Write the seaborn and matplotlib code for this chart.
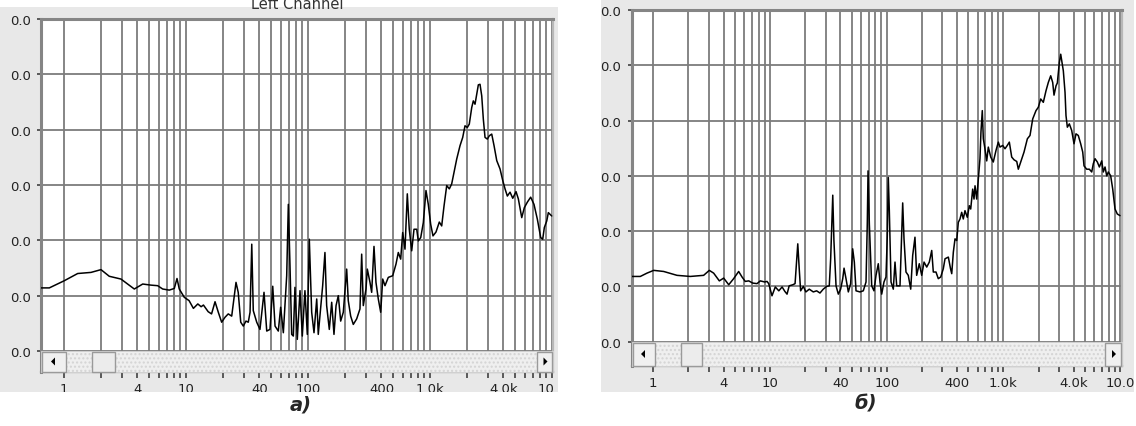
import matplotlib
matplotlib.use("Agg")
import matplotlib.pyplot as plt
import seaborn as sns
import pandas as pd
from matplotlib.patches import Rectangle, Polygon
from matplotlib.ticker import FixedLocator, FixedFormatter, NullFormatter

# ---------------- data ----------------
left_freq = [0.648, 0.758, 1.006, 1.295, 1.665, 2.01, 2.35, 2.93, 3.77, 4.42,
             5.17, 5.86, 6.44, 7.29, 8.02, 8.44, 8.81, 9.68, 10.6, 11.5,
             12.5, 13.3, 13.9, 15.2, 16.2, 17.3, 18.4, 19.6, 20.9, 22.2,
             23.7, 25.7, 26.8, 28.1, 29.5, 31.0, 32.4, 33.5, 34.6, 35.6,
             38.0, 40.4, 43.6, 45.9, 48.8, 51.4, 53.7, 57.1, 59.7, 62.8,
             66.9, 69.0, 71.2, 73.5, 75.8, 78.2, 81.7, 86.0, 89.8, 94.4,
             98.7, 102.5, 107.2, 112, 117.9, 121.4, 125.3, 131.9, 137.7, 142.2,
             149.5, 156.4, 163.3, 169.8, 177.2, 185.3, 194.7, 207.5, 213.8, 223.8,
             235.1, 250.6, 266.7, 275.4, 284, 298.8, 306.3, 322.2, 332.6, 347.5,
             360.7, 376.9, 394.4, 409.6, 427.6, 455.2, 494.5, 526.3, 549.8, 575.2,
             597.3, 623.7, 651.6, 676.1, 707.9, 739.4, 778.4, 802, 839.5, 881.6,
             927, 968.3, 1013, 1058, 1120, 1192, 1247, 1303, 1371, 1440,
             1506, 1574, 1656, 1762, 1854, 1936, 2023, 2099, 2198, 2265,
             2339, 2416, 2490, 2570, 2655, 2736, 2825, 2951, 3064, 3206,
             3350, 3525, 3750, 3948, 4121, 4305, 4530, 4767, 5072, 5297,
             5649, 5931, 6281, 6687, 7118, 7586, 8079, 8392, 8650, 9055,
             9333, 9950]
left_db = [-48.6, -48.6, -47.3, -46.0, -45.8, -45.3, -46.5, -47.0, -48.8, -47.9,
           -48.1, -48.2, -48.8, -49.0, -48.7, -46.9, -48.8, -50.3, -50.9, -52.3,
           -51.5, -52.0, -51.7, -52.9, -53.3, -51.1, -53.0, -54.8, -53.9, -53.3,
           -53.7, -47.6, -49.4, -54.8, -55.5, -54.6, -54.8, -53.0, -40.7, -52.7,
           -54.8, -56.1, -49.4, -56.4, -56.1, -48.3, -55.5, -56.4, -52.1, -56.7,
           -46.4, -33.5, -44.6, -57.0, -57.3, -48.5, -57.9, -49.1, -57.3, -49.1,
           -57.0, -39.8, -53.0, -56.7, -50.6, -57.0, -53.7, -48.2, -42.2, -51.8,
           -56.1, -51.2, -57.0, -51.8, -50.0, -54.6, -53.0, -45.2, -50.9, -53.7,
           -55.2, -54.2, -52.4, -42.5, -51.8, -48.8, -45.2, -47.6, -49.4, -41.1,
           -47.6, -50.6, -53.0, -47.0, -48.2, -46.7, -46.4, -44.3, -42.2, -43.4,
           -38.6, -41.6, -31.6, -38.0, -41.9, -38.0, -38.0, -40.1, -39.5, -36.8,
           -31.0, -33.5, -37.1, -39.2, -38.5, -36.7, -37.4, -33.8, -30.1, -30.7,
           -29.8, -27.7, -25.3, -22.9, -21.4, -19.3, -19.6, -19.0, -16.0, -14.8,
           -15.4, -13.6, -11.9, -11.8, -13.9, -18.1, -21.4, -21.7, -21.1, -20.8,
           -22.9, -25.6, -27.1, -29.2, -30.7, -32.0, -31.3, -32.4, -31.2, -32.5,
           -35.9, -34.1, -33.1, -32.2, -33.5, -36.2, -39.5, -39.8, -37.7, -36.5,
           -35.0, -35.6]

right_freq = [0.657, 0.774, 0.883, 1.008, 1.228, 1.596, 2.075, 2.70, 3.02, 3.29,
              3.68, 4.01, 4.43, 4.88, 5.39, 5.76, 6.14, 6.57, 7.11, 7.74,
              8.26, 9.01, 9.43, 9.75, 10.4, 11.1, 11.9, 12.7, 13.4, 14.0,
              14.6, 15.7, 16.4, 16.9, 17.3, 17.8, 18.3, 19.3, 20.3, 21.7,
              23.5, 25.1, 26.8, 28.6, 30.6, 32.2, 33.1, 34.0, 34.5, 35.3,
              36.8, 38.5, 40.3, 42.0, 43.1, 44.8, 46.9, 49.1, 51.1, 52.8,
              54.6, 59.0, 63.0, 66.5, 68.2, 69.2, 71.0, 74.4, 77.8, 81.0,
              84.7, 87.6, 90.6, 94.8, 98.6, 101.2, 103.2, 105.3, 108.9, 113.9,
              117.8, 121.8, 130.0, 137.1, 140.7, 146.3, 153.1, 160.6, 167.0, 174.7,
              180.6, 190.2, 199.5, 208.9, 220.3, 231.8, 243.1, 250.8, 264.4, 276.7,
              290.3, 305.5, 316.0, 337.4, 352.3, 360.8, 372.4, 384.9, 398.1, 410.9,
              424.6, 439.2, 453.2, 468.6, 490.6, 510.2, 524.6, 545.5, 559.9, 571.2,
              590.6, 609.3, 629.8, 642.0, 659.3, 672.9, 695.0, 719.5, 742.6, 778.8,
              819.0, 864.2, 904.5, 935.0, 986.3, 1032, 1080, 1124, 1178, 1233,
              1301, 1342, 1407, 1502, 1604, 1690, 1783, 1902, 1991, 2088,
              2198, 2318, 2426, 2543, 2644, 2714, 2825, 2898, 3015, 3098,
              3178, 3262, 3373, 3438, 3531, 3673, 3849, 4027, 4188, 4383,
              4594, 4783, 4907, 5173, 5450, 5712, 5894, 6095, 6382, 6640,
              6955, 7178, 7427, 7682, 7927, 8304, 8643, 9045, 9460, 9980]
right_db = [-48.2, -48.2, -47.6, -47.1, -47.3, -48.0, -48.2, -48.0, -47.1, -47.6,
            -49.0, -48.5, -49.7, -48.6, -47.3, -48.3, -49.1, -49.0, -49.4, -49.5,
            -49.0, -49.2, -49.1, -49.5, -51.7, -50.1, -50.8, -50.1, -50.9, -51.4,
            -49.9, -49.7, -49.5, -45.6, -42.3, -46.8, -50.8, -50.0, -51.0, -50.5,
            -51.0, -50.8, -51.2, -50.5, -50.0, -49.9, -45.0, -37.2, -33.5, -41.7,
            -49.9, -51.4, -50.5, -48.6, -46.7, -48.6, -51.0, -49.5, -43.2, -45.6,
            -50.8, -51.0, -50.8, -49.2, -38.5, -29.1, -38.7, -49.9, -50.8, -48.0,
            -45.9, -49.2, -51.4, -49.2, -48.3, -40.8, -30.3, -36.3, -49.2, -50.5,
            -45.6, -49.9, -49.9, -34.9, -41.4, -47.4, -48.0, -50.5, -44.4, -41.1,
            -48.0, -45.9, -48.0, -45.6, -46.5, -45.6, -43.5, -47.4, -47.4, -48.6,
            -48.3, -46.8, -45.0, -44.7, -46.8, -47.7, -43.8, -41.4, -41.7, -38.4,
            -37.8, -36.6, -37.8, -36.3, -37.5, -35.4, -36.0, -32.4, -34.2, -31.8,
            -34.2, -30.6, -26.9, -22.1, -18.2, -23.3, -25.1, -27.3, -24.8, -26.6,
            -27.5, -25.4, -23.9, -24.8, -24.5, -25.1, -24.5, -23.9, -26.6, -27.1,
            -27.4, -28.8, -27.5, -25.7, -23.3, -22.7, -19.7, -18.2, -17.6, -16.1,
            -16.7, -14.6, -13.1, -11.9, -13.1, -15.4, -13.7, -13.2, -9.5, -8.0,
            -9.5, -11.0, -14.9, -19.1, -21.2, -20.6, -21.8, -24.2, -22.4, -22.7,
            -24.2, -25.7, -28.2, -28.8, -28.8, -29.3, -27.8, -26.9, -27.5, -28.4,
            -27.3, -29.3, -28.4, -30.0, -29.3, -30.0, -32.4, -36.0, -36.9, -37.2]

y_ticks = [0, -10, -20, -30, -40, -50, -60]
y_tick_labels = ["0.0", "0.0", "0.0", "0.0", "0.0", "0.0", "0.0"]
x_major = [1, 4, 10, 40, 100, 400, 1000, 4000, 10000]
x_major_labels = ["1", "4", "10", "40", "100", "400", "1.0k", "4.0k", "10.0"]
x_minor = [2, 3, 5, 6, 7, 8, 9, 20, 30, 50, 60, 70, 80, 90,
           200, 300, 500, 600, 700, 800, 900,
           2000, 3000, 5000, 6000, 7000, 8000, 9000]
panel_captions = ["а)", "б)"]
left_title = "Left Channel"

# ---------------- style ----------------
sns.set_style("white")
plt.rcParams["font.family"] = ["DejaVu Sans"]

W, H = 1136, 427
fig = plt.figure(figsize=(W / 100, H / 100), dpi=100)
fig.patch.set_facecolor("white")

GRID = "#7c7c7c"
BG = "#e8e8e8"


def fr(x0, y0, x1, y1, **kw):
    return Rectangle((x0 / W, 1 - y1 / H), (x1 - x0) / W, (y1 - y0) / H,
                     transform=fig.transFigure, **kw)


def tri(pts, **kw):
    return Polygon([(x / W, 1 - y / H) for x, y in pts], closed=True,
                   transform=fig.transFigure, **kw)


# grey window backgrounds
fig.add_artist(fr(0, 8, 558, 393, facecolor=BG, edgecolor="none", zorder=-5))
fig.add_artist(fr(601, 0, 1134, 393, facecolor=BG, edgecolor="none", zorder=-5))


def panel(box, xlim, ylim, freq, db, scroll, tlen, tpad, ypad):
    x0, y0, x1, y1 = box
    ax = fig.add_axes([x0 / W, 1 - y1 / H, (x1 - x0) / W, (y1 - y0) / H])
    ax.set_facecolor("white")
    ax.set_xscale("log")
    df = pd.DataFrame({"freq": freq, "db": db})
    sns.lineplot(data=df, x="freq", y="db", ax=ax, color="black", lw=1.1,
                 estimator=None, sort=False, zorder=3)
    ax.set_xlim(*xlim)
    ax.set_ylim(*ylim)
    ax.xaxis.set_major_locator(FixedLocator(x_major))
    ax.xaxis.set_major_formatter(FixedFormatter(x_major_labels))
    ax.xaxis.set_minor_locator(FixedLocator(x_minor))
    ax.xaxis.set_minor_formatter(NullFormatter())
    ax.yaxis.set_major_locator(FixedLocator(y_ticks))
    ax.yaxis.set_major_formatter(FixedFormatter(y_tick_labels))
    ax.grid(True, which="both", axis="both", color=GRID, lw=1.3)
    ax.set_xlabel("")
    ax.set_ylabel("")
    ax.tick_params(axis="x", which="both", length=tlen, width=1.2,
                   color="#404040", pad=tpad, labelsize=9.5, labelcolor="#222222",
                   direction="out", bottom=True)
    ax.tick_params(axis="y", which="both", length=3, width=1.2, color="#404040",
                   pad=ypad, labelsize=9.5, labelcolor="#222222", left=True)
    for side in ["left", "top"]:
        ax.spines[side].set_color("#858585")
        ax.spines[side].set_linewidth(2.2)
    ax.spines["bottom"].set_color("#8a8a8a")
    ax.spines["bottom"].set_linewidth(1.6)
    ax.spines["right"].set_color("#b8b8b8")
    ax.spines["right"].set_linewidth(1.6)

    # scrollbar (drawn over the bottom strip of the plot)
    sy0, sy1, lb, th0, th1, rb = scroll
    fig.add_artist(fr(x0, sy0, x1, sy1, facecolor="#efefef", edgecolor="#d4d4d4",
                      lw=0.6, hatch="....", zorder=5))
    fig.add_artist(fr(x0 + 1, sy0 + 1, lb, sy1, facecolor="#f0f0f0",
                      edgecolor="#9a9a9a", lw=1.0, zorder=6))
    fig.add_artist(fr(th0, sy0 + 1, th1, sy1, facecolor="#ececec",
                      edgecolor="#9a9a9a", lw=1.0, zorder=6))
    fig.add_artist(fr(rb, sy0 + 1, x1 - 1, sy1, facecolor="#f0f0f0",
                      edgecolor="#9a9a9a", lw=1.0, zorder=6))
    cy = (sy0 + sy1) / 2
    cxl = (x0 + lb) / 2
    cxr = (rb + x1) / 2
    fig.add_artist(tri([(cxl - 2.5, cy), (cxl + 1.5, cy - 4), (cxl + 1.5, cy + 4)],
                       facecolor="black", edgecolor="none", zorder=7))
    fig.add_artist(tri([(cxr + 2.5, cy), (cxr - 1.5, cy - 4), (cxr - 1.5, cy + 4)],
                       facecolor="black", edgecolor="none", zorder=7))
    return ax


ax_a = panel((41, 20, 553, 373), (0.648, 10190), (-63.8, 0), left_freq, left_db,
             (352, 373, 66, 92, 115, 537), tlen=4, tpad=3.5, ypad=4)
ax_b = panel((632, 11, 1122, 367), (0.657, 10380), (-64.4, 0), right_freq, right_db,
             (343, 367, 655, 681, 702, 1105), tlen=4, tpad=3.5, ypad=5)

# white page around / below the screenshots (clips overflowing labels)
fig.add_artist(fr(0, 393, W, H, facecolor="white", edgecolor="none", zorder=8))
fig.add_artist(fr(558, 365, 598, 393, facecolor="white", edgecolor="none", zorder=8))

# partly hidden window title at the top of the left screenshot
fig.text(297 / W, 1 - 9 / H, left_title, ha="center", va="baseline",
         fontsize=10.5, color="#333333", zorder=9)

# panel captions
fig.text(301 / W, 1 - 405 / H, panel_captions[0], ha="center", va="center",
         fontsize=14, fontweight="bold", fontstyle="italic", zorder=9)
fig.text(866 / W, 1 - 404 / H, panel_captions[1], ha="center", va="center",
         fontsize=14, fontweight="bold", fontstyle="italic", zorder=9)

fig.savefig("out.png", dpi=100)
